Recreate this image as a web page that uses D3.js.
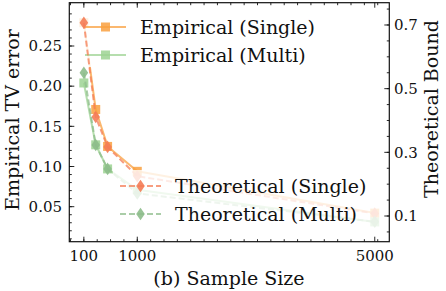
<!DOCTYPE html>
<html>
<head>
<meta charset="utf-8">
<script src="https://d3js.org/d3.v7.min.js"></script>
<style>
  body { margin: 0; background: white; }
  svg text { font-family: "DejaVu Serif", serif; fill: #111; }
</style>
</head>
<body>
<svg id="chart" width="446" height="291"></svg>
<script>
const sampleSizes = [100, 300, 500, 1000, 5000];
const empiricalSingle = [0.279, 0.171, 0.125, 0.094, 0.042];
const empiricalMulti = [0.204, 0.127, 0.097, 0.071, 0.031];
const theoreticalSingle = [0.707, 0.411, 0.317, 0.225, 0.108];
const theoreticalMulti = [0.550, 0.323, 0.248, 0.171, 0.082];

const xTicks = [100, 1000, 5000];
const leftTicks = [0.05, 0.10, 0.15, 0.20, 0.25];
const rightTicks = [0.1, 0.3, 0.5, 0.7];

const svg = d3.select("#chart");
const plot = { left: 69.3, right: 389.3, top: 2.7, bottom: 241.7 };

const x = d3.scaleLinear().domain([-145, 5245]).range([plot.left, plot.right]);
const yL = d3.scaleLinear().domain([0.0064, 0.3039]).range([plot.bottom, plot.top]);
const yR = d3.scaleLinear().domain([0.0193, 0.770]).range([plot.bottom, plot.top]);

const colors = {
  empSingle: "#f9a03f",
  empMulti: "#9ed393",
  theoSingle: "#f47c56",
  theoMulti: "#8dbc8b"
};

function drawSeries(vals, yScale, color, dashed, marker) {
  const pts = sampleSizes.map((s, i) => [x(s), yScale(vals[i])]);
  const line = d3.line();
  svg.append("path")
    .attr("d", line(pts))
    .attr("fill", "none")
    .attr("stroke", color)
    .attr("stroke-width", 2)
    .attr("stroke-opacity", 0.75)
    .attr("stroke-dasharray", dashed ? "6,3" : null);
  pts.forEach(p => drawMarker(p[0], p[1], color, marker));
}

function drawMarker(cx, cy, color, marker) {
  if (marker === "square") {
    svg.append("rect")
      .attr("x", cx - 4.5).attr("y", cy - 4.5)
      .attr("width", 9).attr("height", 9)
      .attr("fill", color).attr("fill-opacity", 0.85);
  } else {
    svg.append("path")
      .attr("d", `M${cx},${cy - 6.3}L${cx + 4.3},${cy}L${cx},${cy + 6.3}L${cx - 4.3},${cy}Z`)
      .attr("fill", color).attr("fill-opacity", 0.9);
  }
}

// ax1: empirical
drawSeries(empiricalSingle, yL, colors.empSingle, false, "square");
drawSeries(empiricalMulti, yL, colors.empMulti, false, "square");

// legend 1 (ax1), sits under ax2 lines
svg.append("rect").attr("x", 76).attr("y", 9).attr("width", 270).attr("height", 58)
  .attr("fill", "white").attr("fill-opacity", 0.8);
const leg1 = [["Empirical (Single)", colors.empSingle, 27], ["Empirical (Multi)", colors.empMulti, 55]];
leg1.forEach(([label, color, ly]) => {
  svg.append("line").attr("x1", 85).attr("x2", 126).attr("y1", ly).attr("y2", ly)
    .attr("stroke", color).attr("stroke-width", 2).attr("stroke-opacity", 0.75);
  drawMarker(105.5, ly, color, "square");
  svg.append("text").attr("x", 140).attr("y", ly).attr("dy", "0.35em")
    .attr("font-size", 19).text(label);
});

// ax2: theoretical
drawSeries(theoreticalSingle, yR, colors.theoSingle, true, "diamond");
drawSeries(theoreticalMulti, yR, colors.theoMulti, true, "diamond");

// legend 2 (ax2)
svg.append("rect").attr("x", 113).attr("y", 170).attr("width", 269).attr("height", 65)
  .attr("fill", "white").attr("fill-opacity", 0.8);
const leg2 = [["Theoretical (Single)", colors.theoSingle, 186], ["Theoretical (Multi)", colors.theoMulti, 214]];
leg2.forEach(([label, color, ly]) => {
  svg.append("line").attr("x1", 120).attr("x2", 161).attr("y1", ly).attr("y2", ly)
    .attr("stroke", color).attr("stroke-width", 2).attr("stroke-opacity", 0.75)
    .attr("stroke-dasharray", "6,3");
  drawMarker(140.5, ly, color, "diamond");
  svg.append("text").attr("x", 175).attr("y", ly).attr("dy", "0.35em")
    .attr("font-size", 19).text(label);
});

// axes frame
svg.append("rect").attr("x", plot.left).attr("y", plot.top)
  .attr("width", plot.right - plot.left).attr("height", plot.bottom - plot.top)
  .attr("fill", "none").attr("stroke", "#111").attr("stroke-width", 1.2);

const tickColor = "#111";
function tickLine(x1, y1, x2, y2) {
  svg.append("line").attr("x1", x1).attr("y1", y1).attr("x2", x2).attr("y2", y2)
    .attr("stroke", tickColor).attr("stroke-width", 0.9);
}

// x ticks (inward, mirrored on top); minor ticks every 225 from 100
const xMinor = d3.range(-125, 5245, 225);
xMinor.forEach(v => {
  tickLine(x(v), plot.bottom, x(v), plot.bottom - 2.5);
  tickLine(x(v), plot.top, x(v), plot.top + 2.5);
});
xTicks.forEach(v => {
  tickLine(x(v), plot.bottom, x(v), plot.bottom - 5);
  tickLine(x(v), plot.top, x(v), plot.top + 5);
  svg.append("text").attr("x", x(v)).attr("y", 256).attr("dy", "0.35em")
    .attr("text-anchor", "middle").attr("font-size", 15).text(d3.format("d")(v));
});

// left y ticks
d3.range(0.01, 0.30, 0.01).forEach(v => tickLine(plot.left, yL(v), plot.left + 2.5, yL(v)));
leftTicks.forEach(v => {
  tickLine(plot.left, yL(v), plot.left + 5, yL(v));
  svg.append("text").attr("x", 62).attr("y", yL(v)).attr("dy", "0.35em")
    .attr("text-anchor", "end").attr("font-size", 15).text(d3.format(".2f")(v));
});

// right y ticks
d3.range(0.05, 0.77, 0.05).forEach(v => tickLine(plot.right, yR(v), plot.right - 2.5, yR(v)));
rightTicks.forEach(v => {
  tickLine(plot.right, yR(v), plot.right - 5, yR(v));
  svg.append("text").attr("x", 394).attr("y", yR(v)).attr("dy", "0.35em")
    .attr("text-anchor", "start").attr("font-size", 15).text(d3.format(".1f")(v));
});

// axis labels
svg.append("text").attr("x", 229).attr("y", 278).attr("dy", "0.35em")
  .attr("text-anchor", "middle").attr("font-size", 19).text("(b) Sample Size");
svg.append("text").attr("transform", "translate(12,120) rotate(-90)").attr("dy", "0.35em")
  .attr("text-anchor", "middle").attr("font-size", 19).text("Empirical TV error");
svg.append("text").attr("transform", "translate(431,109) rotate(-90)").attr("dy", "0.35em")
  .attr("text-anchor", "middle").attr("font-size", 19).text("Theoretical Bound");
</script>
</body>
</html>
